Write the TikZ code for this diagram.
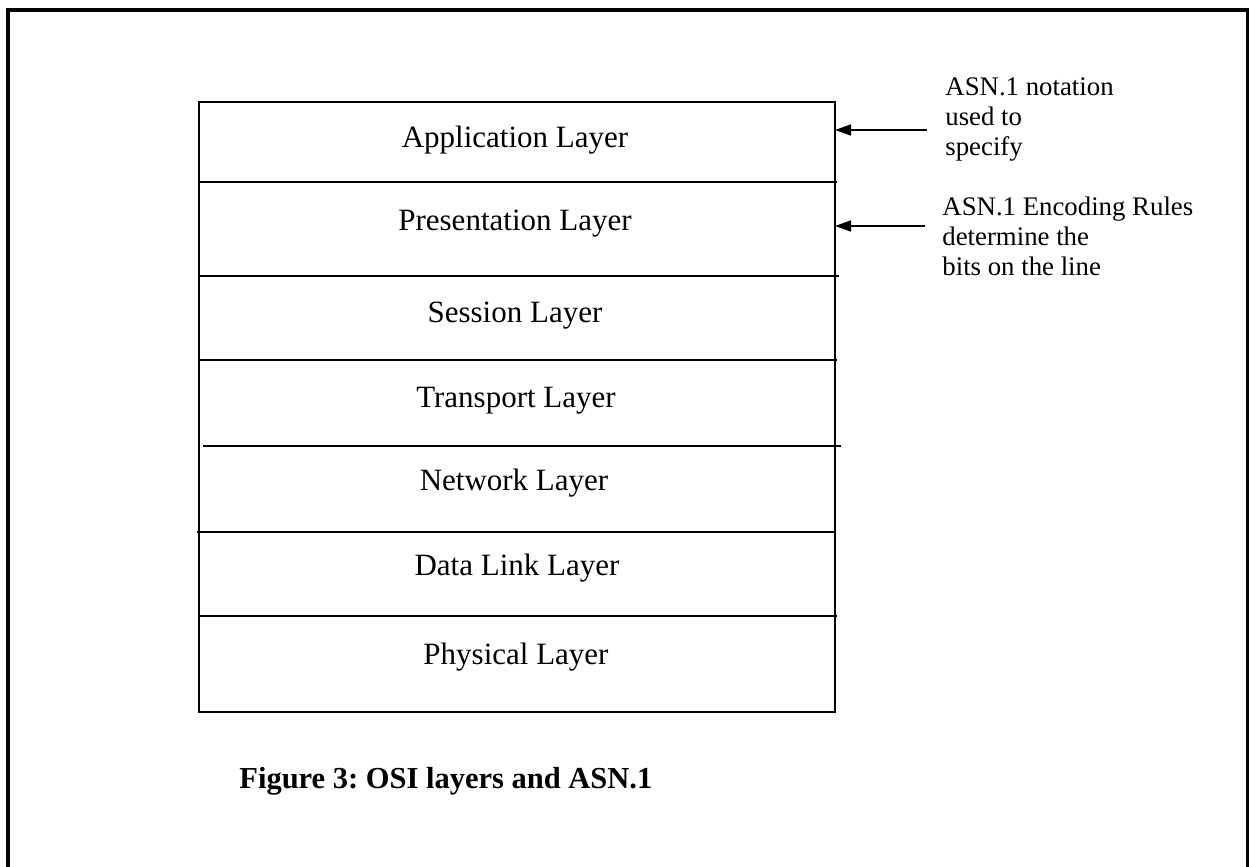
\documentclass[tikz,border=0pt]{standalone}
\usepackage{fontspec}
\setmainfont{Liberation Serif}
\usetikzlibrary{arrows.meta}
\frenchspacing
\begin{document}
\begin{tikzpicture}[x=0.5pt,y=-0.5pt,
  layerlabel/.style={font=\fontsize{15.5}{18}\selectfont, inner sep=0pt, anchor=base},
  notetext/.style={font=\fontsize{13.4}{15}\selectfont, inner sep=0pt, anchor=base west},
  captiontext/.style={font=\bfseries\fontsize{15.25}{18}\selectfont, inner sep=0pt, anchor=base west},
  boxline/.style={line width=1pt},
  pointer/.style={line width=0.75pt, -{Triangle[length=8pt,width=5.5pt]}},
  frameline/.style={line width=2pt}]
\useasboundingbox (0,0) rectangle (1249,867);

% outer frame (open at the bottom)
\draw[frameline] (7.5,867) -- (7.5,10) -- (1247.5,10) -- (1247.5,867);

% the layer stack
\draw[boxline] (199,102) rectangle (835,712);
\draw[boxline] (199,182) -- (837,182);
\draw[boxline] (199,276) -- (839,276);
\draw[boxline] (199,360) -- (837,360);
\draw[boxline] (203,446) -- (841,446);
\draw[boxline] (197,532) -- (835,532);
\draw[boxline] (199,616) -- (837,616);

\node[layerlabel] (app)   at (515,147) {Application Layer};
\node[layerlabel] (pres)  at (515,230) {Presentation Layer};
\node[layerlabel] (sess)  at (515,322) {Session Layer};
\node[layerlabel] (trans) at (516,407) {Transport Layer};
\node[layerlabel] (net)   at (514,490) {Network Layer};
\node[layerlabel] (dll)   at (517,575) {Data Link Layer};
\node[layerlabel] (phys)  at (516,664) {Physical Layer};

% side notes
\node[notetext] (noteAa) at (945,95)  {ASN.1 notation};
\node[notetext] (noteAb) at (945,125) {used to};
\node[notetext] (noteAc) at (945,155) {specify};

\node[notetext] (noteBa) at (942,215) {ASN.1 Encoding Rules};
\node[notetext] (noteBb) at (942,245) {determine the};
\node[notetext] (noteBc) at (942,275) {bits on the line};

% pointers from the notes to the stack
\coordinate (appTail)  at (927,130);
\coordinate (appEdge)  at (835,130);
\coordinate (presTail) at (925,226);
\coordinate (presEdge) at (835,226);
\draw[pointer] (appTail) -- (appEdge);
\draw[pointer] (presTail) -- (presEdge);

% caption
\node[captiontext] (caption) at (239,788) {Figure 3: OSI layers and ASN.1};
\end{tikzpicture}
\end{document}
